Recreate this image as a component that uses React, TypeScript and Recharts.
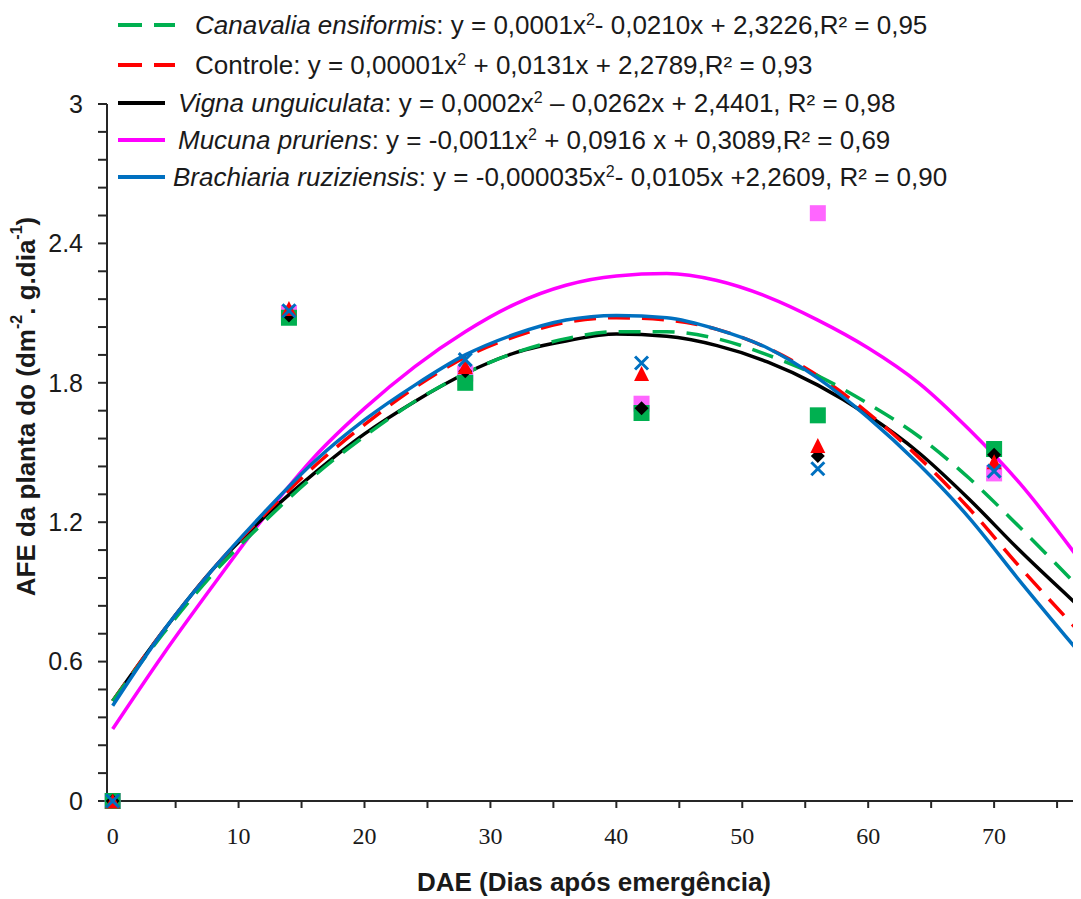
import { ComposedChart, Line, Scatter, XAxis, YAxis, Legend, Label } from 'recharts'

// sampling days (observed means)
const DAYS = [0, 14, 28, 42, 56, 70]
const canavaliaObs = [0, 2.08, 1.8, 1.67, 1.66, 1.515]
const controleObs = [0, 2.12, 1.87, 1.84, 1.53, 1.46]
const vignaObs = [0, 2.09, 1.85, 1.69, 1.485, 1.49]
const mucunaObs = [0, 2.1, 1.84, 1.71, 2.53, 1.41]
const brachiariaObs = [0, 2.11, 1.9, 1.885, 1.43, 1.42]

// fitted curves (last point = right edge of the plot)
const FIT_X = [0, 4, 8, 12, 16, 20, 24, 28, 32, 36, 40, 44, 48, 52, 56, 60, 64, 68, 72, 76.9]
const canavaliaFit = [0.43, 0.72, 0.98, 1.2, 1.4, 1.57, 1.72, 1.84, 1.93, 1.99, 2.02, 2.02, 1.99, 1.92, 1.83, 1.71, 1.57, 1.39, 1.18, 0.91]
const controleFit = [0.43, 0.73, 1.0, 1.23, 1.44, 1.62, 1.78, 1.91, 2.0, 2.06, 2.08, 2.07, 2.03, 1.95, 1.83, 1.67, 1.48, 1.26, 1.01, 0.72]
const vignaFit = [0.43, 0.73, 1.0, 1.22, 1.41, 1.58, 1.72, 1.84, 1.93, 1.98, 2.01, 2.0, 1.96, 1.89, 1.79, 1.66, 1.5, 1.3, 1.08, 0.83]
const mucunaFit = [0.31, 0.63, 0.93, 1.22, 1.48, 1.69, 1.87, 2.02, 2.14, 2.22, 2.26, 2.27, 2.24, 2.17, 2.07, 1.95, 1.8, 1.6, 1.37, 1.03]
const brachiariaFit = [0.41, 0.73, 1.0, 1.24, 1.46, 1.64, 1.79, 1.92, 2.01, 2.07, 2.09, 2.08, 2.03, 1.95, 1.82, 1.65, 1.45, 1.22, 0.95, 0.63]

// x: tick marks every 5 days, labels every 10; y: labelled every 0.6, 5 minor divisions each
const X_TICKS = [0, 5, 10, 15, 20, 25, 30, 35, 40, 45, 50, 55, 60, 65, 70, 75]
const Y_TICKS = [0, 0.6, 1.2, 1.8, 2.4, 3]
const Y_MINOR_DIVS = 5

// the value axis crosses a little before day 0 in the original
const X_MIN = -0.45
const X_MAX = 76.9
const Y_MAX = 3

const GREEN = '#00B050'
const RED = '#FF0000'
const BLACK = '#000000'
const MAGENTA = '#FF00FF'
const PINK = '#FF66FF'
const BLUE = '#0070C0'
const AXIS = '#262626'
const TEXT = '#1a1a1a'
const SANS = '"Liberation Sans", Arial, sans-serif'

const toPoints = (xs: number[], ys: number[]) => xs.map((x, i) => ({ x, y: ys[i] }))

// unlabelled y ticks, placed on the axis line
const yMinorTicks = Y_TICKS.slice(0, -1).flatMap((v, i) =>
  Array.from({ length: Y_MINOR_DIVS - 1 }, (_, k) => ({
    x: X_MIN,
    y: v + ((Y_TICKS[i + 1] - v) * (k + 1)) / Y_MINOR_DIVS,
  })),
)

// marker shapes
const square = (color: string, s: number) => (p: any) => (
  <rect x={p.cx - s / 2} y={p.cy - s / 2} width={s} height={s} fill={color} />
)
const triangle = (color: string, s: number) => (p: any) => (
  <path d={`M${p.cx},${p.cy - s / 2} L${p.cx + s / 2},${p.cy + s / 2} L${p.cx - s / 2},${p.cy + s / 2} Z`} fill={color} />
)
const diamond = (color: string, s: number) => (p: any) => (
  <path d={`M${p.cx},${p.cy - s / 2} L${p.cx + s / 2},${p.cy} L${p.cx},${p.cy + s / 2} L${p.cx - s / 2},${p.cy} Z`} fill={color} />
)
const cross = (color: string, s: number) => (p: any) => (
  <path
    d={`M${p.cx - s / 2},${p.cy - s / 2} L${p.cx + s / 2},${p.cy + s / 2} M${p.cx + s / 2},${p.cy - s / 2} L${p.cx - s / 2},${p.cy + s / 2}`}
    stroke={color}
    strokeWidth={3}
  />
)
const tickMark = (len: number) => (p: any) => (
  <line x1={p.cx - len} y1={p.cy} x2={p.cx} y2={p.cy} stroke={AXIS} strokeWidth={2} />
)

const yLabel = (v: number) => (v === 0 ? '0' : v === Y_MAX ? '3' : v.toFixed(1))
const xLabel = (v: number) => (v % 10 === 0 ? String(v) : '')

const LEGEND_ROWS = [
  { color: GREEN, dash: '24 12', lineW: 57, textLeft: 187, name: 'Canavalia ensiformis', italic: true, pre: ': y = 0,0001x', post: '- 0,0210x + 2,3226,R² = 0,95' },
  { color: RED, dash: '24 12', lineW: 57, textLeft: 187, name: 'Controle', italic: false, pre: ': y = 0,00001x', post: ' + 0,0131x + 2,2789,R² = 0,93' },
  { color: BLACK, dash: undefined, lineW: 47, textLeft: 170, name: 'Vigna unguiculata', italic: true, pre: ': y = 0,0002x', post: ' – 0,0262x + 2,4401, R² = 0,98' },
  { color: MAGENTA, dash: undefined, lineW: 47, textLeft: 170, name: 'Mucuna pruriens', italic: true, pre: ': y = -0,0011x', post: ' + 0,0916 x + 0,3089,R² = 0,69' },
  { color: BLUE, dash: undefined, lineW: 47, textLeft: 165, name: 'Brachiaria ruziziensis', italic: true, pre: ': y = -0,000035x', post: '- 0,0105x +2,2609, R² = 0,90' },
]
const LEGEND_CENTERS = [17, 57, 95, 132, 169]

function renderLegend() {
  return (
    <div style={{ position: 'relative', width: 1073, height: 200 }}>
      {LEGEND_ROWS.map((r, i) => (
        <div key={i} style={{ position: 'absolute', left: 0, top: LEGEND_CENTERS[i] - 15, height: 30, width: 1073 }}>
          <svg width={70} height={30} style={{ position: 'absolute', left: 110, top: 0 }}>
            <line x1={0} y1={15} x2={r.lineW} y2={15} stroke={r.color} strokeWidth={4} strokeDasharray={r.dash} />
          </svg>
          <span
            style={{
              position: 'absolute',
              left: r.textLeft,
              top: 0,
              lineHeight: '30px',
              fontSize: 26,
              color: TEXT,
              whiteSpace: 'nowrap',
              fontFamily: SANS,
            }}
          >
            <span style={{ fontStyle: r.italic ? 'italic' : 'normal' }}>{r.name}</span>
            {r.pre}
            <sup style={{ fontSize: 16, verticalAlign: 'top', position: 'relative', top: -5 }}>2</sup>
            {r.post}
          </span>
        </div>
      ))}
    </div>
  )
}

const YTitle = (props: any) => {
  const vb = props.viewBox
  const cx = vb.x + 18
  const cy = vb.y + vb.height / 2 - 46
  return (
    <text
      x={cx}
      y={cy}
      transform={`rotate(-90 ${cx} ${cy})`}
      textAnchor="middle"
      dominantBaseline="central"
      fontFamily={SANS}
      fontWeight="bold"
      fontSize={26}
      fill={TEXT}
    >
      AFE da planta do (dm
      <tspan fontSize={16} dy={-10}>-2</tspan>
      <tspan dy={10}>. g.dia</tspan>
      <tspan fontSize={16} dy={-10}>-1</tspan>
      <tspan dy={10}>)</tspan>
    </text>
  )
}

export default function App() {
  return (
    <div style={{ position: 'relative', width: 1073, height: 891, overflow: 'hidden', background: '#fff' }}>
      <ComposedChart width={1073} height={891} margin={{ top: 96, right: 0, bottom: 0, left: 0 }}>
        <XAxis
          dataKey="x"
          type="number"
          domain={[X_MIN, X_MAX]}
          ticks={X_TICKS}
          tickFormatter={xLabel}
          interval={0}
          height={98}
          tickSize={7}
          tickMargin={19}
          axisLine={{ stroke: AXIS, strokeWidth: 2 }}
          tickLine={{ stroke: AXIS, strokeWidth: 2 }}
          tick={{ fontSize: 24, fill: TEXT, fontFamily: '"Liberation Serif", "Times New Roman", serif' }}
        >
          <Label
            value="DAE (Dias após emergência)"
            position="insideBottom"
            offset={8}
            style={{ fontSize: 26, fontWeight: 'bold', fill: TEXT, fontFamily: SANS }}
          />
        </XAxis>
        <YAxis
          type="number"
          domain={[0, Y_MAX]}
          ticks={Y_TICKS}
          tickFormatter={yLabel}
          interval={0}
          width={99}
          tickSize={9}
          tickMargin={15}
          axisLine={{ stroke: AXIS, strokeWidth: 2 }}
          tickLine={{ stroke: AXIS, strokeWidth: 2 }}
          tick={{ fontSize: 25, fill: TEXT, fontFamily: SANS }}
        >
          <Label content={YTitle} />
        </YAxis>
        <Legend
          layout="horizontal"
          verticalAlign="middle"
          align="center"
          wrapperStyle={{ top: 0, left: 0, width: 1073, height: 200 }}
          content={renderLegend}
        />

        <Scatter data={yMinorTicks} dataKey="y" shape={tickMark(9)} isAnimationActive={false} />

        <Line data={toPoints(FIT_X, mucunaFit)} dataKey="y" type="monotone" stroke={MAGENTA} strokeWidth={3.5} dot={false} isAnimationActive={false} />
        <Line data={toPoints(FIT_X, vignaFit)} dataKey="y" type="monotone" stroke={BLACK} strokeWidth={3.5} dot={false} isAnimationActive={false} />
        <Line data={toPoints(FIT_X, controleFit)} dataKey="y" type="monotone" stroke={RED} strokeWidth={3.5} strokeDasharray="22 12" dot={false} isAnimationActive={false} />
        <Line data={toPoints(FIT_X, canavaliaFit)} dataKey="y" type="monotone" stroke={GREEN} strokeWidth={3.5} strokeDasharray="22 12" dot={false} isAnimationActive={false} />
        <Line data={toPoints(FIT_X, brachiariaFit)} dataKey="y" type="monotone" stroke={BLUE} strokeWidth={3.5} dot={false} isAnimationActive={false} />

        <Scatter data={toPoints(DAYS, mucunaObs)} dataKey="y" shape={square(PINK, 16)} isAnimationActive={false} />
        <Scatter data={toPoints(DAYS, canavaliaObs)} dataKey="y" shape={square(GREEN, 16)} isAnimationActive={false} />
        <Scatter data={toPoints(DAYS, vignaObs)} dataKey="y" shape={diamond(BLACK, 14)} isAnimationActive={false} />
        <Scatter data={toPoints(DAYS, controleObs)} dataKey="y" shape={triangle(RED, 15)} isAnimationActive={false} />
        <Scatter data={toPoints(DAYS, brachiariaObs)} dataKey="y" shape={cross(BLUE, 13)} isAnimationActive={false} />
      </ComposedChart>
    </div>
  )
}
